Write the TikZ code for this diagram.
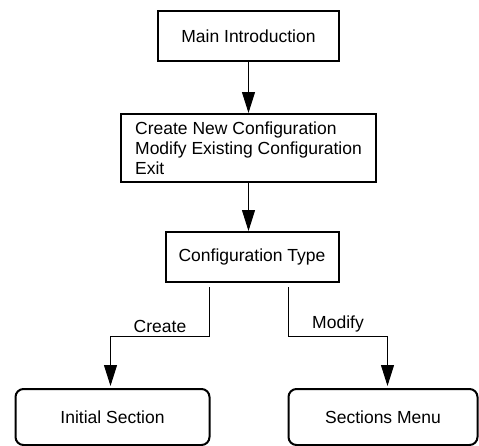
\documentclass[tikz,border=0pt]{standalone}
\usepackage{fontspec}
\setmainfont{Liberation Sans}
\usetikzlibrary{arrows.meta,calc,positioning}

\begin{document}
\begin{tikzpicture}[
      font=\fontsize{17.5}{20}\selectfont,
      >={Triangle[length=21pt,width=13pt]},
      box/.style={draw=black, line width=2pt, minimum height=50pt, align=center, inner sep=0pt},
      menubox/.style={box, align=left, minimum height=68pt},
      endbox/.style={box, rounded corners=8pt, minimum height=56pt},
      link/.style={line width=1pt},
]
\useasboundingbox (0,0) rectangle (479pt,-445pt);

\node[box, minimum width=181pt] (intro) at (248.5pt,-36pt) {Main Introduction};
\node[menubox, minimum width=255pt, below=51pt of intro] (menu) {Create New Configuration\\Modify Existing Configuration\\Exit};
\node[box, minimum width=173pt, below=48pt of menu, xshift=3.5pt] (config) {Configuration Type};

\node[endbox, minimum width=194pt, anchor=north] (init) at ($(config.south)+(-139.5pt,-105pt)$) {Initial Section};
\node[endbox, minimum width=189pt, anchor=north] (sections) at ($(config.south)+(131pt,-105pt)$) {Sections Menu};

\coordinate (create_turn) at ($(config.south)+(-42.5pt,-53pt)$);
\coordinate (modify_turn) at ($(config.south)+(36.5pt,-53pt)$);

\draw[link, ->] (intro.south) -- (menu.north);
\draw[link, ->] (menu.south) -- (menu.south |- config.north);

\draw[link, ->, shorten >=2pt] ($(config.south)+(-42.5pt,-4pt)$) -- (create_turn) -| node[pos=0.25, above, inner sep=3pt] {Create} ($(init.north)+(-2pt,0pt)$);
\draw[link, ->, shorten >=2pt] ($(config.south)+(36.5pt,-4pt)$) -- (modify_turn) -| node[pos=0.25, above, inner sep=3pt] {Modify} ($(sections.north)+(4.5pt,0pt)$);

\end{tikzpicture}
\end{document}
